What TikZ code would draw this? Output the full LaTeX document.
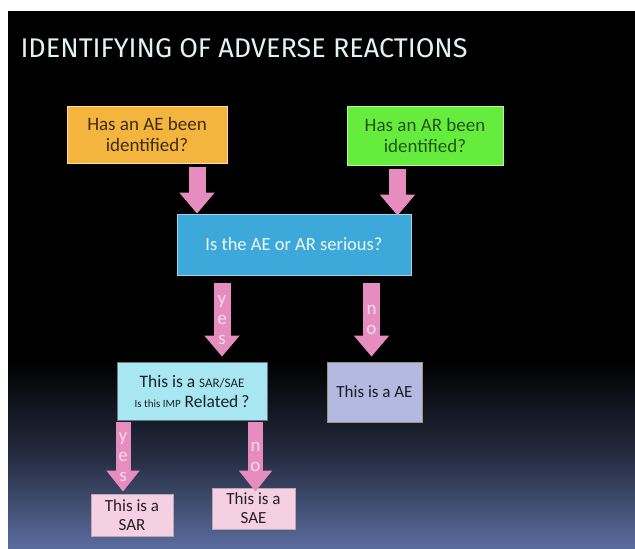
\documentclass[tikz,border=0pt]{standalone}
\usepackage{fontspec}
\setmainfont{Carlito}
\newfontfamily\titlefont{Fira Sans}
\usetikzlibrary{arrows.meta}

\definecolor{bgblue}{HTML}{5B6D9F}
\definecolor{titlecol}{HTML}{E2F4F2}
\definecolor{aeorange}{HTML}{F4B53F}
\definecolor{argreen}{HTML}{66EC3C}
\definecolor{seriousblue}{HTML}{3DA8DA}
\definecolor{sarcyan}{HTML}{A8E6F2}
\definecolor{aelav}{HTML}{B3B9E0}
\definecolor{sarpink}{HTML}{F5D0E2}
\definecolor{arrowpink}{HTML}{E68CBE}
\definecolor{lettercol}{HTML}{F6DDEE}

\tikzset{
  box/.style={inner sep=0pt, align=center, line width=0.8pt},
  bigarrow/.style={draw=arrowpink, line width=17pt, -{Triangle[width=34pt,length=21pt]}},
  smallarrow/.style={draw=arrowpink, line width=15pt, -{Triangle[width=32pt,length=21pt]}},
  letters/.style={text=lettercol, align=center, font=\fontsize{19}{20}\selectfont},
}

\begin{document}
\begin{tikzpicture}[x=1pt,y=-1pt]
    \useasboundingbox (0,0) rectangle (635,549);
    % background
    \fill[black] (8,11) rectangle (635,549);
    \fill[top color=black, bottom color=bgblue, middle color=bgblue!40!black] (8,360) rectangle (635,549);

    \node[text=titlecol, font=\titlefont\fontsize{27}{30}\selectfont, anchor=west] (title) at (17,48) {IDENTIFYING OF ADVERSE REACTIONS};

    % boxes
    \node[box, fill=aeorange, draw=aeorange!50!white, text=aeorange!25!black, minimum width=160pt, minimum height=57pt,
          font=\fontsize{19}{21}\selectfont] (ae) at (147,134.5) {Has an AE been\\identified?};
    \node[box, fill=argreen, draw=argreen!50!white, text=argreen!35!black, minimum width=156pt, minimum height=59pt,
          font=\fontsize{19}{21}\selectfont] (ar) at (425,135.5) {Has an AR been\\identified?};
    \node[box, fill=seriousblue, draw=seriousblue!50!white, text=white!92!seriousblue, minimum width=234pt, minimum height=61pt,
          font=\fontsize{18.5}{20}\selectfont] (serious) at (294,244.5) {Is the AE or AR serious?};
    \node[box, fill=sarcyan, draw=sarcyan!55!black, text=sarcyan!15!black, minimum width=150pt, minimum height=58pt,
          font=\fontsize{17.5}{20}\selectfont] (sarsae) at (192,391)
          {This is a {\fontsize{13}{14}\selectfont SAR/SAE}\\{\fontsize{11}{12}\selectfont Is this IMP} Related\,?};
    \node[box, fill=aelav, draw=aelav!50!olive, text=aelav!15!black, minimum width=95pt, minimum height=60pt,
          font=\fontsize{17}{19}\selectfont] (aeonly) at (374.5,392) {This is a AE};
    \node[box, fill=sarpink, draw=sarpink!50!gray, text=sarpink!15!black, minimum width=82pt, minimum height=42pt,
          font=\fontsize{17}{19}\selectfont] (sar) at (132,515) {This is a\\SAR};
    \node[box, fill=sarpink, draw=sarpink!50!gray, text=sarpink!15!black, minimum width=83pt, minimum height=41pt,
          font=\fontsize{17}{19}\selectfont] (sae) at (253.5,508.5) {This is a\\SAE};

    % arrows
    \draw[bigarrow] ([xshift=50pt,yshift=-4pt]ae.south) -- ([xshift=50pt]ae.south |- serious.north);
    \draw[bigarrow] ([xshift=-27.5pt,yshift=-4pt]ar.south) -- ([xshift=-27.5pt,yshift=-2pt]ar.south |- serious.north);
    \draw[bigarrow] ([xshift=-72pt,yshift=-8pt]serious.south) --
        node[letters] {y\\e\\s} ([xshift=-72pt,yshift=5pt]serious.south |- sarsae.north);
    \draw[bigarrow] ([xshift=77.5pt,yshift=-8pt]serious.south) --
        node[letters] {n\\o} ([xshift=77.5pt,yshift=5pt]serious.south |- aeonly.north);
    \draw[smallarrow] ([xshift=-69pt,yshift=-2pt]sarsae.south) --
        node[letters] {y\\e\\s} ([xshift=-69pt,yshift=2pt]sarsae.south |- sar.north);
    \draw[smallarrow] ([xshift=63.5pt,yshift=-2pt]sarsae.south) --
        node[letters] {n\\o} ([xshift=63.5pt,yshift=-4pt]sarsae.south |- sae.north);
\end{tikzpicture}
\end{document}
